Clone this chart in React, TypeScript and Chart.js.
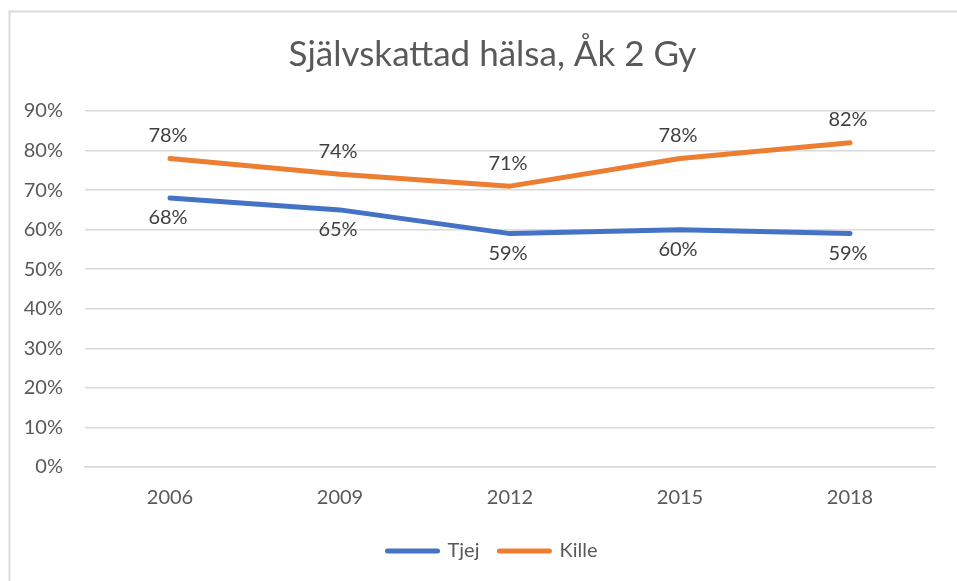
import React, { useEffect, useRef } from "react";
import { Chart, registerables } from "chart.js";

Chart.register(...registerables);

const years = ["2006", "2009", "2012", "2015", "2018"];
const tjej = [68, 65, 59, 60, 59];
const kille = [78, 74, 71, 78, 82];
const titleText = "Självskattad hälsa, Åk 2 Gy";
const FONT = "Lato, 'Open Sans', sans-serif";

const frame = {
  id: "frame",
  beforeDraw(chart: any) {
    const ctx = chart.ctx;
    ctx.save();
    ctx.fillStyle = "#ffffff";
    ctx.fillRect(0, 0, chart.width, chart.height);
    ctx.strokeStyle = "#d9d9d9";
    ctx.lineWidth = 2;
    ctx.beginPath();
    ctx.moveTo(9.5, chart.height);
    ctx.lineTo(9.5, 11.5);
    ctx.lineTo(chart.width, 11.5);
    ctx.stroke();
    ctx.restore();
  },
};

const boxShift = {
  id: "boxShift",
  afterLayout(chart: any) {
    const lg = chart.legend;
    if (lg) {
      lg.left += 20;
      lg.right += 20;
      lg.top -= 8;
      lg.bottom -= 8;
    }
    const tt = chart.titleBlock;
    if (tt) {
      tt.left += 20;
      tt.right += 20;
    }
  },
};

const labels = {
  id: "valueLabels",
  afterDatasetsDraw(chart: any) {
    const ctx = chart.ctx;
    ctx.save();
    ctx.font = `20px ${FONT}`;
    ctx.fillStyle = "#404040";
    ctx.textAlign = "center";
    ctx.textBaseline = "middle";
    chart.data.datasets.forEach((ds: any, i: number) => {
      const meta = chart.getDatasetMeta(i);
      const above = ds.labelPos === "above";
      meta.data.forEach((pt: any, j: number) => {
        const y = above ? pt.y - 23 : pt.y + 20;
        ctx.fillText(ds.data[j] + "%", pt.x - 2, y);
      });
    });
    ctx.restore();
  },
};

export default function App() {
  const ref = useRef<HTMLCanvasElement>(null);
  useEffect(() => {
    if (!ref.current) return;
    const chart = new Chart(ref.current, {
      type: "line",
      data: {
        labels: years,
        datasets: [
          {
            label: "Tjej",
            data: tjej,
            borderColor: "#4472C4",
            backgroundColor: "#4472C4",
            borderWidth: 5,
            borderCapStyle: "round",
            borderJoinStyle: "round",
            pointRadius: 0,
            tension: 0,
            labelPos: "below",
          } as any,
          {
            label: "Kille",
            data: kille,
            borderColor: "#ED7D31",
            backgroundColor: "#ED7D31",
            borderWidth: 5,
            borderCapStyle: "round",
            borderJoinStyle: "round",
            pointRadius: 0,
            tension: 0,
            labelPos: "above",
          } as any,
        ],
      },
      options: {
        responsive: false,
        animation: false,
        layout: { padding: { left: 10, right: 22, top: 0, bottom: 2 } },
        plugins: {
          title: {
            display: true,
            text: titleText,
            color: "#595959",
            font: { family: FONT, size: 35, weight: "normal" },
            padding: { top: 34, bottom: 35 },
          },
          legend: {
            position: "bottom",
            labels: {
              usePointStyle: true,
              pointStyle: "line",
              pointStyleWidth: 50,
              boxHeight: 5,
              color: "#595959",
              font: { family: FONT, size: 20 },
              padding: 20,
              generateLabels(chart: any) {
                return chart.data.datasets.map((ds: any, i: number) => ({
                  text: ds.label,
                  strokeStyle: ds.borderColor,
                  fillStyle: ds.borderColor,
                  lineWidth: 5,
                  lineCap: "round",
                  pointStyle: "line",
                  datasetIndex: i,
                  fontColor: "#595959",
                  hidden: false,
                }));
              },
            },
          },
          tooltip: { enabled: false },
        },
        scales: {
          x: {
            offset: true,
            grid: { display: false, drawTicks: false },
            border: { display: true, color: "#d9d9d9", width: 1.5 },
            ticks: {
              color: "#595959",
              font: { family: FONT, size: 20 },
              padding: 19,
            },
          },
          y: {
            min: 0,
            max: 90,
            grid: { color: "#d9d9d9", lineWidth: 1.5, drawTicks: false },
            border: { display: false },
            ticks: {
              stepSize: 10,
              color: "#595959",
              font: { family: FONT, size: 20 },
              padding: 22,
              callback: (v: any) => v + "%",
            },
            afterFit: (s: any) => {
              s.width = 75;
            },
          },
        },
      } as any,
      plugins: [frame, boxShift, labels],
    });
    return () => chart.destroy();
  }, []);
  return (
    <div style={{ position: "absolute", left: 0, top: 0 }}>
      <canvas ref={ref} width={957} height={581} style={{ display: "block" }} />
    </div>
  );
}
